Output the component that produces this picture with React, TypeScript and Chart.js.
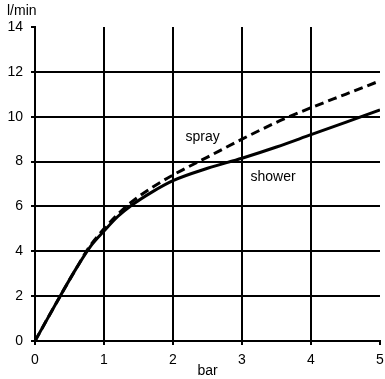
import React, { useEffect, useRef } from 'react';
import { Chart, registerables } from 'chart.js';

Chart.register(...registerables);

const pressure = [0, 0.3, 0.6, 0.8, 1.0, 1.2, 1.4, 1.7, 2.0, 2.5, 3, 3.5, 4, 4.5, 5];
const showerFlow = [0, 1.65, 3.25, 4.2, 4.9, 5.55, 6.05, 6.65, 7.15, 7.7, 8.15, 8.65, 9.2, 9.75, 10.3];
const sprayFlow = [0, 1.65, 3.25, 4.25, 5.0, 5.65, 6.2, 6.85, 7.4, 8.2, 9.0, 9.75, 10.4, 11.0, 11.6];
const seriesNames = ['shower', 'spray'];
const xTitle = 'bar';
const yTitle = 'l/min';

const FONT = '"Liberation Sans", Arial, sans-serif';

const labelsPlugin = {
  id: 'inlineLabels',
  afterDraw(chart: any) {
    const ctx = chart.ctx;
    const xs = chart.scales.x;
    const ys = chart.scales.y;
    ctx.save();
    ctx.fillStyle = '#000';
    ctx.font = `14px ${FONT}`;
    ctx.textAlign = 'center';
    ctx.textBaseline = 'middle';
    ctx.fillText(seriesNames[1], xs.getPixelForValue(2.43), ys.getPixelForValue(9.07));
    ctx.fillText(seriesNames[0], xs.getPixelForValue(3.45), ys.getPixelForValue(7.3));
    ctx.fillText(xTitle, xs.getPixelForValue(2.5), chart.chartArea.bottom + 30);
    ctx.textAlign = 'left';
    ctx.fillText(yTitle, 7, 11);
    ctx.restore();
  },
};

const zeroPad = (s: any) => {
  s.paddingLeft = 0;
  s.paddingRight = 0;
  s.paddingTop = 0;
  s.paddingBottom = 0;
};

export default function App() {
  const ref = useRef<HTMLCanvasElement>(null);
  useEffect(() => {
    if (!ref.current) return;
    const font = { family: FONT, size: 14 };
    const chart = new Chart(ref.current, {
      type: 'line',
      data: {
        datasets: [
          {
            label: seriesNames[0],
            data: pressure.map((p, i) => ({ x: p, y: showerFlow[i] })),
            borderColor: '#000',
            borderWidth: 3,
            pointRadius: 0,
            cubicInterpolationMode: 'monotone',
            fill: false,
          },
          {
            label: seriesNames[1],
            data: pressure.map((p, i) => ({ x: p, y: sprayFlow[i] })),
            borderColor: '#000',
            borderWidth: 3,
            borderDash: [9, 5],
            pointRadius: 0,
            cubicInterpolationMode: 'monotone',
            fill: false,
          },
        ],
      },
      options: {
        responsive: false,
        animation: false,
        layout: { padding: { top: 27, right: 5, left: 0, bottom: 0 }, autoPadding: false },
        plugins: { legend: { display: false }, tooltip: { enabled: false } },
        scales: {
          x: {
            type: 'linear',
            min: 0,
            max: 5,
            ticks: { stepSize: 1, color: '#000', font, padding: 7, maxRotation: 0 },
            grid: {
              color: (c: any) => (c.tick && c.tick.value === 5 ? 'rgba(0,0,0,0)' : '#000'),
              tickColor: '#000',
              lineWidth: 2,
              tickLength: 4,
            },
            border: { color: '#000', width: 2 },
            afterFit: (s: any) => {
              s.height = 38;
              zeroPad(s);
            },
          },
          y: {
            type: 'linear',
            min: 0,
            max: 14,
            ticks: { stepSize: 2, color: '#000', font, padding: 8 },
            grid: {
              color: (c: any) => (c.tick && c.tick.value === 14 ? 'rgba(0,0,0,0)' : '#000'),
              tickColor: '#000',
              lineWidth: 2,
              tickLength: 4,
            },
            border: { color: '#000', width: 2 },
            afterFit: (s: any) => {
              s.width = 35;
              zeroPad(s);
            },
          },
        },
      },
      plugins: [labelsPlugin],
    } as any);
    return () => chart.destroy();
  }, []);
  return (
    <div style={{ position: 'absolute', left: 0, top: 0, width: 385, height: 379, background: '#fff' }}>
      <canvas ref={ref} width={385} height={379} />
    </div>
  );
}
